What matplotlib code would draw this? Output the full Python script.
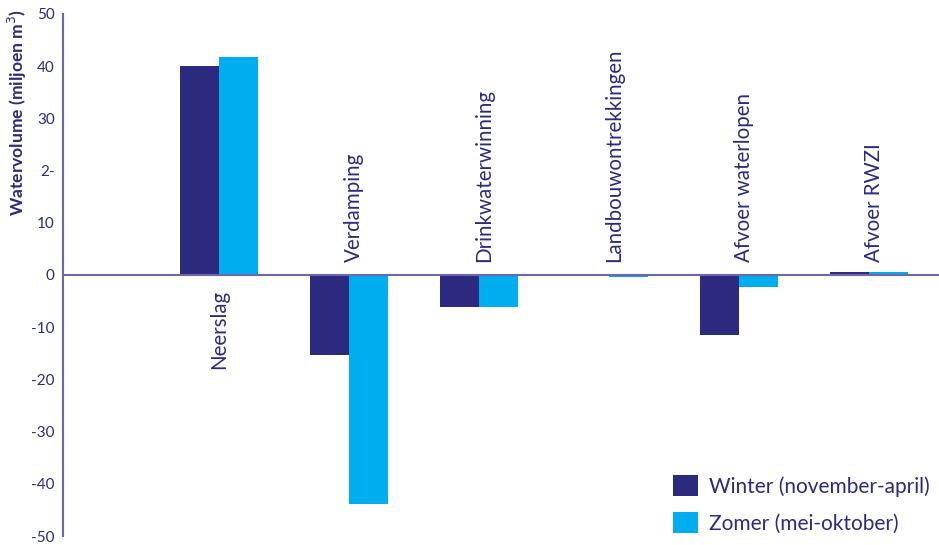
import matplotlib
matplotlib.use("Agg")
import matplotlib.pyplot as plt
import numpy as np

categories = ["Neerslag", "Verdamping", "Drinkwaterwinning", "Landbouwontrekkingen",
              "Afvoer waterlopen", "Afvoer RWZI"]
winter = [40.0, -15.3, -6.1, 0.0, -11.5, 0.5]
zomer = [41.8, -43.9, -6.1, -0.4, -2.3, 0.5]
yticks = [50, 40, 30, 20, 10, 0, -10, -20, -30, -40, -50]
yticklabels = ["50", "40", "30", "2-", "10", "0", "-10", "-20", "-30", "-40", "-50"]
label_below = [True, False, False, False, False, False]
series_names = ["Winter (november-april)", "Zomer (mei-oktober)"]

navy = "#2b2a7e"
cyan = "#00adee"
axis_col = "#6b67a8"
text_col = "#2b2a7e"

plt.rcParams['font.family'] = ['Lato', 'DejaVu Sans']

W, H = 939, 545
fig = plt.figure(figsize=(W / 100, H / 100), dpi=100)
ax = fig.add_axes([63 / W, (H - 536) / H, (W - 63) / W, (536 - 14) / H])

x = np.arange(len(categories))
bw = 0.3
ax.bar(x - bw / 2, winter, width=bw, color=navy, label=series_names[0])
ax.bar(x + bw / 2, zomer, width=bw, color=cyan, label=series_names[1])

ax.set_xlim(-1.2, 5.54)
ax.set_ylim(-50, 50)
ax.set_yticks(yticks)
ax.set_yticklabels(yticklabels, fontsize=11, color=text_col)
ax.tick_params(axis='y', length=0, pad=6)
ax.set_xticks([])

for s in ["top", "right", "bottom"]:
    ax.spines[s].set_visible(False)
ax.spines["left"].set_color(axis_col)
ax.spines["left"].set_linewidth(1.5)
ax.axhline(0, color=axis_col, lw=1.5, zorder=3)

for i, (cat, below) in enumerate(zip(categories, label_below)):
    if below:
        ax.text(i + 0.0, -2.9, cat, rotation=90, ha='center', va='top',
                fontsize=14.8, color=text_col)
    else:
        ax.text(i + 0.04, 2.5, cat, rotation=90, ha='center', va='bottom',
                fontsize=14.8, color=text_col)

fig.text(17 / W, 1 - 113 / H, "Watervolume (miljoen m$^3$)", rotation=90,
         ha='center', va='center', fontsize=12.6, fontweight='bold', color=text_col)

leg = ax.legend(loc='upper left', bbox_to_anchor=(673 / W, 1 - 475 / H),
                bbox_transform=fig.transFigure, frameon=False, fontsize=15,
                handlelength=1.2, handleheight=1.2, labelspacing=0.72,
                handletextpad=0.55, borderpad=0, borderaxespad=0)
for t in leg.get_texts():
    t.set_color(text_col)

fig.savefig("out.png", dpi=100)
